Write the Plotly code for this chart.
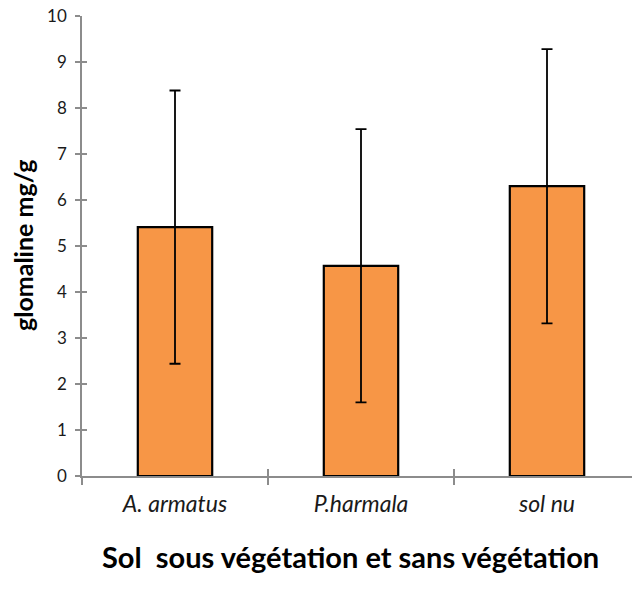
import plotly.graph_objects as go

# ─── DATA ─────────────────────────────────────────────────────
CATEGORIES = ["A. armatus", "P.harmala", "sol nu"]
GLOMALINE = [5.41, 4.57, 6.30]
ERR = [2.97, 2.97, 2.98]
Y_TICKS = list(range(0, 11))

# ─── STYLE ────────────────────────────────────────────────────
ORANGE = "#F79646"
AXIS = "#8C8C8C"
INK = "#000000"
FONT = "Lato"

W, H = 632, 595
L, R, T, B = 82, 0, 16, 119
PW, PH = W - L - R, H - T - B


def paper_xy(px, py):
    """pixel position -> paper coords"""
    return (px - L) / PW, (H - B - py) / PH


fig = go.Figure()
fig.add_trace(go.Bar(
    x=CATEGORIES,
    y=GLOMALINE,
    marker=dict(color=ORANGE, line=dict(color=INK, width=2.2)),
    error_y=dict(type="data", array=ERR, visible=True,
                 color=INK, thickness=1.8, width=5.5),
    width=0.4,
    showlegend=False,
))
# dummy trace to activate the overlay axes
fig.add_trace(go.Scatter(x=[None], y=[None], xaxis="x2", yaxis="y2",
                         showlegend=False, hoverinfo="skip"))

yt_x, yt_y = paper_xy(23, 246)
cap_x, cap_y = paper_xy(350, 556)

fig.update_layout(
    width=W, height=H,
    paper_bgcolor="white", plot_bgcolor="white",
    margin=dict(l=L, r=R, t=T, b=B),
    font=dict(family=FONT, color="#262626", size=16),
    xaxis=dict(
        type="category",
        range=[-0.5, 2.457],
        automargin=False,
        showline=True, linecolor=AXIS, linewidth=1.5,
        ticks="outside", ticklen=7, tickcolor=AXIS, tickwidth=1.5,
        tickson="boundaries",
        showgrid=False, zeroline=False,
        tickfont=dict(family=FONT, size=23, color="#1a1a1a", style="italic"),
        ticklabelstandoff=7,
    ),
    yaxis=dict(
        range=[0, 10],
        tickvals=Y_TICKS,
        automargin=False,
        showline=True, linecolor=AXIS, linewidth=1.5,
        ticks="outside", ticklen=5, tickcolor=AXIS, tickwidth=1.5,
        showgrid=False, zeroline=False,
        tickfont=dict(family=FONT, size=17, color="#1a1a1a"),
        ticklabelstandoff=5,
    ),
    # inside half of the crossing tick marks
    yaxis2=dict(
        overlaying="y", range=[0, 10], tickvals=Y_TICKS,
        ticks="inside", ticklen=5, tickcolor=AXIS, tickwidth=1.5,
        showticklabels=False, showgrid=False, zeroline=False,
    ),
    xaxis2=dict(
        overlaying="x", type="linear", range=[-0.5, 2.457],
        tickvals=[-0.5, 0.5, 1.5, 2.5],
        ticks="inside", ticklen=7, tickcolor=AXIS, tickwidth=1.5,
        showticklabels=False, showgrid=False, zeroline=False,
    ),
    annotations=[
        dict(text="<b>glomaline mg/g</b>", textangle=-90,
             x=yt_x, y=yt_y, xref="paper", yref="paper",
             xanchor="center", yanchor="middle", showarrow=False,
             font=dict(family=FONT, size=25, color=INK)),
        dict(text="<b>Sol  sous végétation et sans végétation</b>",
             x=cap_x, y=cap_y, xref="paper", yref="paper",
             xanchor="center", yanchor="middle", showarrow=False,
             font=dict(family=FONT, size=29, color=INK)),
    ],
)

# drop the default page margin so the figure sits at the window origin
fig.write_html("out.html", config={"displayModeBar": False},
               post_script="document.body.style.margin='0';")
